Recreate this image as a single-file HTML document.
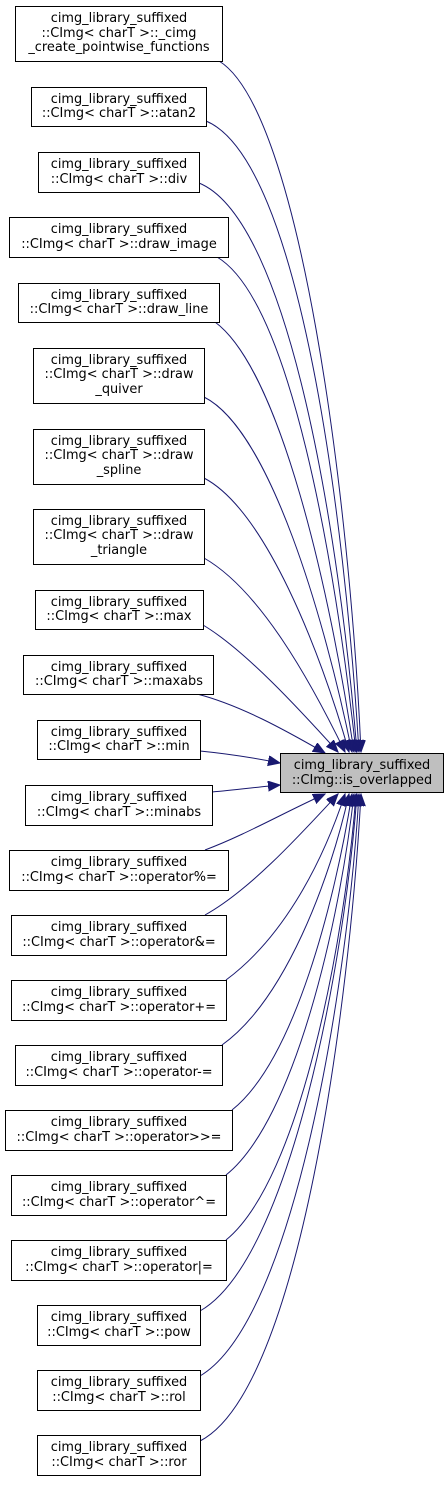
<!DOCTYPE html>
<html><head><meta charset="utf-8"><style>
html,body{margin:0;padding:0;background:#fff;}
svg{display:block;}
text{font-family:"DejaVu Sans","Liberation Sans",sans-serif;font-size:12.9px;fill:#000;text-anchor:middle;}
.b{fill:#fff;stroke:#000;stroke-width:1;}
.e{fill:none;stroke:#191970;stroke-width:1;}
</style></head><body>
<svg width="448" height="1485" viewBox="0 0 448 1485" xmlns="http://www.w3.org/2000/svg">
<defs>
<marker id="a" markerUnits="userSpaceOnUse" markerWidth="14" markerHeight="12" refX="12" refY="5" orient="auto">
<path d="M0,0 L12,5 L0,10 z" fill="#191970" stroke="#191970"/>
</marker>
</defs>
<path class="e" marker-end="url(#a)" d="M219,61 C300,110 350,500 361,752"/>
<path class="e" marker-end="url(#a)" d="M206,121 C300,160 345,520 359,752"/>
<path class="e" marker-end="url(#a)" d="M199,183 C290,220 340,540 357,752"/>
<path class="e" marker-end="url(#a)" d="M217,257 C290,300 335,560 356,752"/>
<path class="e" marker-end="url(#a)" d="M215,322 C280,370 330,590 354,752"/>
<path class="e" marker-end="url(#a)" d="M204,397 C270,430 325,620 352,752"/>
<path class="e" marker-end="url(#a)" d="M204,478 C265,510 320,650 349,752"/>
<path class="e" marker-end="url(#a)" d="M204,558 C260,590 310,680 345,752"/>
<path class="e" marker-end="url(#a)" d="M203,625 C245,650 300,710 338,752"/>
<path class="e" marker-end="url(#a)" d="M197,694 C240,705 285,730 325,753"/>
<path class="e" marker-end="url(#a)" d="M200,751 C230,754 255,758 280,763"/>
<path class="e" marker-end="url(#a)" d="M212,792 C235,790 258,787 280,785"/>
<path class="e" marker-end="url(#a)" d="M205,850 C245,835 285,812 325,794"/>
<path class="e" marker-end="url(#a)" d="M205,915 C250,890 300,835 338,794"/>
<path class="e" marker-end="url(#a)" d="M226,980 C280,940 320,870 345,794"/>
<path class="e" marker-end="url(#a)" d="M222,1045 C285,1000 330,880 349,794"/>
<path class="e" marker-end="url(#a)" d="M232,1110 C295,1060 335,900 352,794"/>
<path class="e" marker-end="url(#a)" d="M226,1175 C295,1120 340,920 354,794"/>
<path class="e" marker-end="url(#a)" d="M226,1240 C300,1180 345,940 356,794"/>
<path class="e" marker-end="url(#a)" d="M200,1311 C290,1260 345,960 357,794"/>
<path class="e" marker-end="url(#a)" d="M200,1376 C295,1320 348,980 359,794"/>
<path class="e" marker-end="url(#a)" d="M200,1441 C300,1390 350,1000 361,794"/>

<rect x="280.5" y="753.5" width="163" height="39" fill="#bfbfbf" stroke="#000"/>
<text x="362" y="769">cimg_library_suffixed</text>
<text x="362" y="784">::CImg::is_overlapped</text>

<rect class="b" x="15.5" y="6.5" width="207" height="55"/>
<text x="119" y="22">cimg_library_suffixed</text>
<text x="119" y="37">::CImg&lt; charT &gt;::_cimg</text>
<text x="119" y="51">_create_pointwise_functions</text>

<rect class="b" x="31.5" y="87.5" width="175" height="39"/>
<text x="119" y="103">cimg_library_suffixed</text>
<text x="119" y="117">::CImg&lt; charT &gt;::atan2</text>

<rect class="b" x="38.5" y="152.5" width="161" height="40"/>
<text x="119" y="168">cimg_library_suffixed</text>
<text x="119" y="183">::CImg&lt; charT &gt;::div</text>

<rect class="b" x="9.5" y="217.5" width="219" height="40"/>
<text x="119" y="233">cimg_library_suffixed</text>
<text x="119" y="248">::CImg&lt; charT &gt;::draw_image</text>

<rect class="b" x="18.5" y="283.5" width="201" height="39"/>
<text x="119" y="299">cimg_library_suffixed</text>
<text x="119" y="313">::CImg&lt; charT &gt;::draw_line</text>

<rect class="b" x="33.5" y="348.5" width="171" height="55"/>
<text x="119" y="364">cimg_library_suffixed</text>
<text x="119" y="378">::CImg&lt; charT &gt;::draw</text>
<text x="119" y="393">_quiver</text>

<rect class="b" x="33.5" y="429.5" width="171" height="55"/>
<text x="119" y="445">cimg_library_suffixed</text>
<text x="119" y="459">::CImg&lt; charT &gt;::draw</text>
<text x="119" y="474">_spline</text>

<rect class="b" x="33.5" y="509.5" width="171" height="55"/>
<text x="119" y="525">cimg_library_suffixed</text>
<text x="119" y="539">::CImg&lt; charT &gt;::draw</text>
<text x="119" y="554">_triangle</text>

<rect class="b" x="35.5" y="590.5" width="168" height="39"/>
<text x="119" y="606">cimg_library_suffixed</text>
<text x="119" y="620">::CImg&lt; charT &gt;::max</text>

<rect class="b" x="23.5" y="655.5" width="190" height="39"/>
<text x="119" y="671">cimg_library_suffixed</text>
<text x="119" y="685">::CImg&lt; charT &gt;::maxabs</text>

<rect class="b" x="37.5" y="720.5" width="163" height="39"/>
<text x="119" y="736">cimg_library_suffixed</text>
<text x="119" y="750">::CImg&lt; charT &gt;::min</text>

<rect class="b" x="25.5" y="785.5" width="187" height="40"/>
<text x="119" y="801">cimg_library_suffixed</text>
<text x="119" y="816">::CImg&lt; charT &gt;::minabs</text>

<rect class="b" x="9.5" y="850.5" width="219" height="40"/>
<text x="119" y="866">cimg_library_suffixed</text>
<text x="119" y="881">::CImg&lt; charT &gt;::operator%=</text>

<rect class="b" x="11.5" y="915.5" width="215" height="40"/>
<text x="119" y="931">cimg_library_suffixed</text>
<text x="119" y="946">::CImg&lt; charT &gt;::operator&amp;=</text>

<rect class="b" x="11.5" y="980.5" width="215" height="40"/>
<text x="119" y="996">cimg_library_suffixed</text>
<text x="119" y="1011">::CImg&lt; charT &gt;::operator+=</text>

<rect class="b" x="15.5" y="1045.5" width="207" height="40"/>
<text x="119" y="1061">cimg_library_suffixed</text>
<text x="119" y="1076">::CImg&lt; charT &gt;::operator-=</text>

<rect class="b" x="5.5" y="1110.5" width="227" height="40"/>
<text x="119" y="1126">cimg_library_suffixed</text>
<text x="119" y="1141">::CImg&lt; charT &gt;::operator&gt;&gt;=</text>

<rect class="b" x="11.5" y="1175.5" width="215" height="40"/>
<text x="119" y="1191">cimg_library_suffixed</text>
<text x="119" y="1206">::CImg&lt; charT &gt;::operator^=</text>

<rect class="b" x="11.5" y="1240.5" width="215" height="40"/>
<text x="119" y="1256">cimg_library_suffixed</text>
<text x="119" y="1271">::CImg&lt; charT &gt;::operator|=</text>

<rect class="b" x="37.5" y="1305.5" width="163" height="40"/>
<text x="119" y="1321">cimg_library_suffixed</text>
<text x="119" y="1336">::CImg&lt; charT &gt;::pow</text>

<rect class="b" x="37.5" y="1370.5" width="163" height="40"/>
<text x="119" y="1386">cimg_library_suffixed</text>
<text x="119" y="1401">::CImg&lt; charT &gt;::rol</text>

<rect class="b" x="37.5" y="1435.5" width="163" height="40"/>
<text x="119" y="1451">cimg_library_suffixed</text>
<text x="119" y="1466">::CImg&lt; charT &gt;::ror</text>
</svg>
</body></html>
